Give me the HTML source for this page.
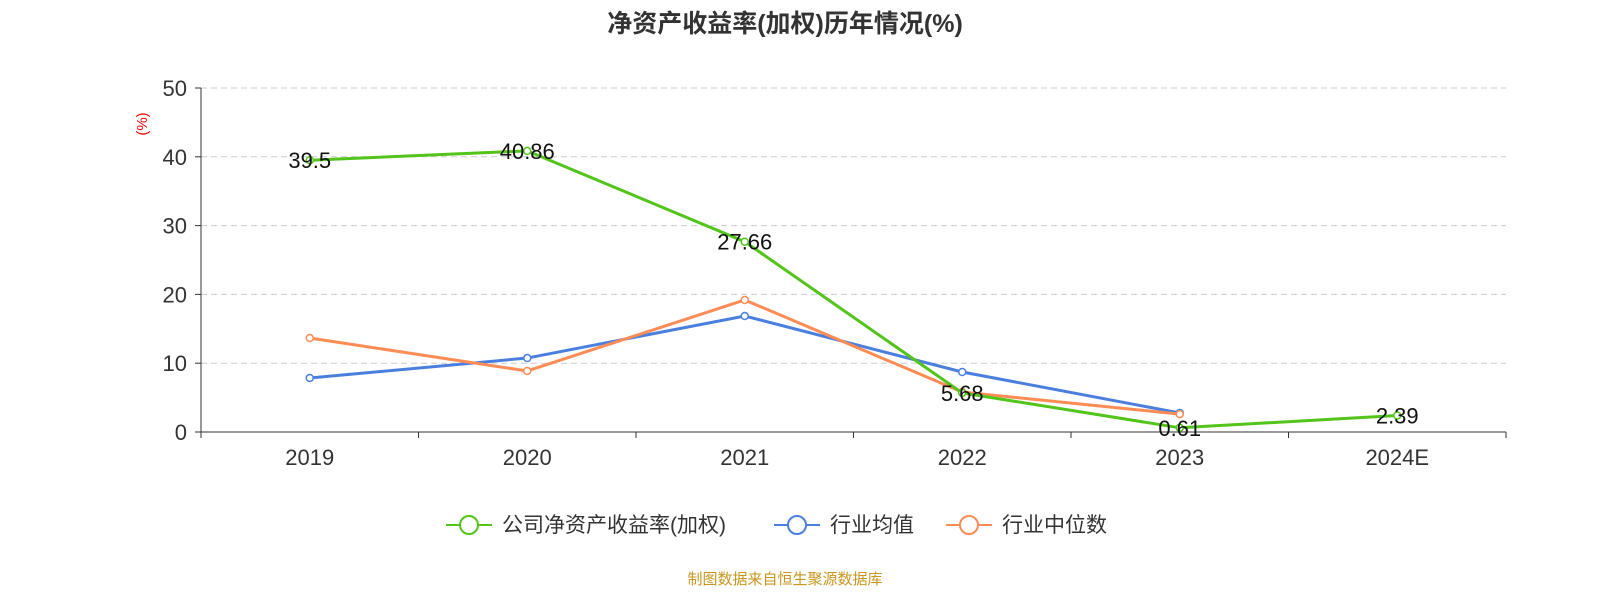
<!DOCTYPE html>
<html><head><meta charset="utf-8"><style>
html,body{margin:0;padding:0;background:#fff;}
svg{display:block;font-family:"Liberation Sans","Noto Sans CJK SC",sans-serif;}
</style></head><body>
<svg id="chart" width="1600" height="600">
<text x="785" y="32" text-anchor="middle" font-size="25" font-weight="bold" fill="#333">净资产收益率(加权)历年情况(%)</text>
<text x="147" y="124" text-anchor="middle" font-size="15" fill="#e00" transform="rotate(-90 147 124)">(%)</text>
<g id="grid"></g><g id="axes"></g><g id="series"></g>
<g id="legend"></g>
<text x="785" y="584" text-anchor="middle" font-size="15" fill="#c8961e">制图数据来自恒生聚源数据库</text>
</svg>
<script>
const categories=["2019","2020","2021","2022","2023","2024E"];
const companyROE=[39.5,40.86,27.66,5.68,0.61,2.39];
const industryAvg=[7.85,10.75,16.86,8.72,2.76];
const industryMedian=[13.66,8.87,19.19,5.81,2.6];
const yTicks=[0,10,20,30,40,50];
const seriesNames=["公司净资产收益率(加权)","行业均值","行业中位数"];
const colors=["#52c41a","#4a7fe0","#ff8c55"];
const NS="http://www.w3.org/2000/svg";
const X0=201,X1=1506,Y0=432,Y1=88,YMAX=50;
const bw=(X1-X0)/categories.length;
const xs=i=>X0+bw*(i+0.5);
const ys=v=>Y0-(v/YMAX)*(Y0-Y1);
function mk(tag,attrs,parent){const e=document.createElementNS(NS,tag);for(const k in attrs)e.setAttribute(k,attrs[k]);parent.appendChild(e);return e;}
const grid=document.getElementById('grid'),axes=document.getElementById('axes'),ser=document.getElementById('series'),leg=document.getElementById('legend');
yTicks.forEach(t=>{
 if(t>0){const l=mk('line',{x1:X0,x2:X1,y1:ys(t),y2:ys(t),stroke:'#ccc','stroke-dasharray':'6,4'},grid);
 
 }
 const tx=mk('text',{x:X0-14,y:ys(t)+8,'text-anchor':'end','font-size':22,fill:'#333'},axes);tx.textContent=t;
 
 
 mk('line',{x1:X0-6,x2:X0,y1:ys(t),y2:ys(t),stroke:'#333'},axes);
});
const ya=mk('line',{x1:X0,x2:X0,y1:Y1,y2:Y0,stroke:'#333'},axes);


const xa=mk('line',{x1:X0,x2:X1,y1:Y0,y2:Y0,stroke:'#333'},axes);


for(let i=0;i<=categories.length;i++)mk('line',{x1:X0+bw*i,x2:X0+bw*i,y1:Y0,y2:Y0+6,stroke:'#333'},axes);
categories.forEach((c,i)=>{const t=mk('text',{x:xs(i),y:Y0+33,'text-anchor':'middle','font-size':22,fill:'#333'},axes);t.textContent=c;
 
 });
function drawSeries(vals,color,name){
 const pts=vals.map((v,i)=>xs(i)+','+ys(v)).join(' ');
 const pl=mk('polyline',{points:pts,fill:'none',stroke:color,'stroke-width':3},ser);
 
 
 vals.forEach((v,i)=>{const c=mk('circle',{cx:xs(i),cy:ys(v),r:3.5,fill:'#fff',stroke:color,'stroke-width':1.5},ser);
  
  });
}
drawSeries(industryAvg,colors[1],'industry-avg');
drawSeries(industryMedian,colors[2],'industry-median');
drawSeries(companyROE,colors[0],'company-roe');
companyROE.forEach((v,i)=>{const t=mk('text',{x:xs(i),y:ys(v)+8,'text-anchor':'middle','font-size':22,fill:'#111'},ser);t.textContent=v;
 
 });
const lx=[446,774,946];
seriesNames.forEach((n,i)=>{
 const g=mk('g',{},leg);
 
 
 mk('line',{x1:lx[i],x2:lx[i]+46,y1:525,y2:525,stroke:colors[i],'stroke-width':2},g);
 mk('circle',{cx:lx[i]+23,cy:525,r:9,fill:'#fff',stroke:colors[i],'stroke-width':2},g);
 const t=mk('text',{x:lx[i]+56,y:532,'font-size':21,fill:'#333'},g);t.textContent=n;
});
</script>
</body></html>
